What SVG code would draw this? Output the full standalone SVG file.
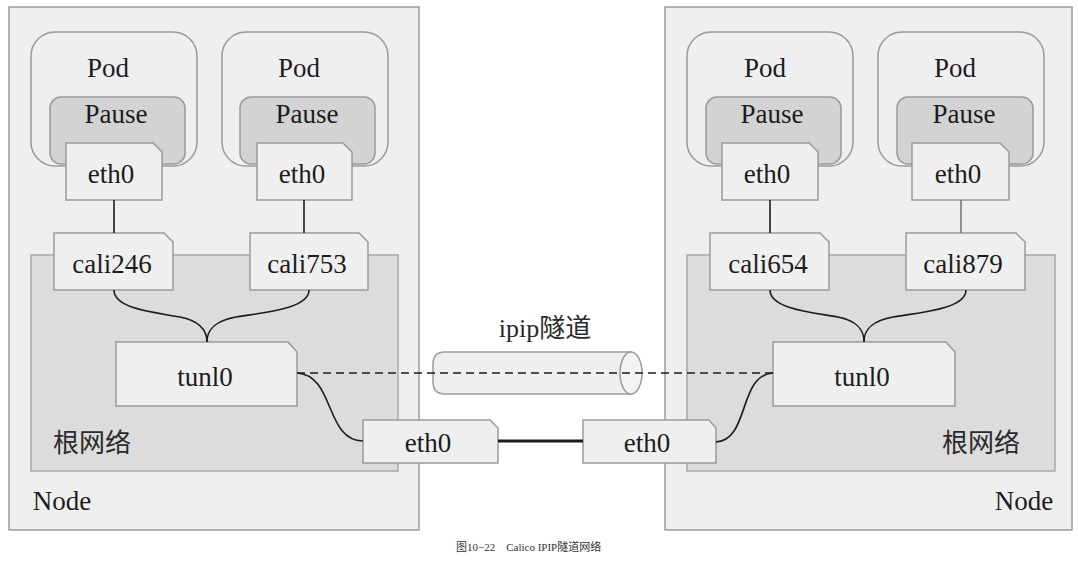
<svg xmlns="http://www.w3.org/2000/svg" width="1078" height="567" viewBox="0 0 1078 567">
<style>
.node{fill:#efefef;stroke:#9a9a9a;stroke-width:1.5}
.root{fill:#dcdcdc;stroke:#a8a8a8;stroke-width:1.5}
.pod{fill:#efefef;stroke:#9a9a9a;stroke-width:1.5}
.pause{fill:#d3d3d3;stroke:#9a9a9a;stroke-width:1.5}
.box{fill:#efefef;stroke:#9a9a9a;stroke-width:1.5}
.t{font-family:"Liberation Serif","Noto Sans CJK SC",serif;font-size:27px;fill:#1c1c1c;text-anchor:middle}
.cn{font-family:"Liberation Serif","Noto Sans CJK SC",serif;font-size:26px;fill:#2a2a2a}
.ln{fill:none;stroke:#1c1c1c;stroke-width:1.6}
.ln2{fill:none;stroke:#777;stroke-width:1.6}
</style>
<rect width="1078" height="567" fill="#ffffff"/>
<g id="node-left">
<rect class="node" x="9" y="7" width="410" height="523"/>
<rect class="root" x="31" y="255" width="367" height="216"/>
<text class="cn" x="53" y="452">根网络</text>
<text class="t" x="62" y="510">Node</text>
</g>
<g id="node-right">
<rect class="node" x="665" y="7" width="407" height="523"/>
<rect class="root" x="687" y="255" width="368" height="216"/>
<text class="cn" x="942" y="452">根网络</text>
<text class="t" x="1024" y="510">Node</text>
</g>
<g id="pod-l1">
<rect class="pod" x="31" y="32" width="166" height="134" rx="24"/>
<text class="t" x="108" y="77">Pod</text>
<rect class="pause" x="50" y="97" width="135" height="67" rx="11"/>
<text class="t" x="116" y="123">Pause</text>
</g>
<g id="pod-l2">
<rect class="pod" x="222" y="32" width="166" height="134" rx="24"/>
<text class="t" x="299" y="77">Pod</text>
<rect class="pause" x="240" y="97" width="135" height="67" rx="11"/>
<text class="t" x="307" y="123">Pause</text>
</g>
<g id="pod-r1">
<rect class="pod" x="687" y="32" width="166" height="134" rx="24"/>
<text class="t" x="765" y="77">Pod</text>
<rect class="pause" x="706" y="97" width="135" height="67" rx="11"/>
<text class="t" x="772" y="123">Pause</text>
</g>
<g id="pod-r2">
<rect class="pod" x="878" y="32" width="166" height="134" rx="24"/>
<text class="t" x="955" y="77">Pod</text>
<rect class="pause" x="897" y="97" width="136" height="67" rx="11"/>
<text class="t" x="964" y="123">Pause</text>
</g>
<g id="eth0-l1">
<path class="box" d="M66,143 H153 L162,152 V200 H66 Z"/>
<text class="t" x="111" y="183">eth0</text>
</g>
<g id="eth0-l2">
<path class="box" d="M257,143 H343 L352,152 V200 H257 Z"/>
<text class="t" x="302" y="183">eth0</text>
</g>
<g id="eth0-r1">
<path class="box" d="M722,143 H809 L818,152 V200 H722 Z"/>
<text class="t" x="767" y="183">eth0</text>
</g>
<g id="eth0-r2">
<path class="box" d="M912,143 H1000 L1009,152 V200 H912 Z"/>
<text class="t" x="958" y="183">eth0</text>
</g>
<g id="cali246">
<path class="box" d="M54,233 H164 L173,242 V290 H54 Z"/>
<text class="t" x="112" y="273">cali246</text>
</g>
<g id="cali753">
<path class="box" d="M250,233 H359 L368,242 V290 H250 Z"/>
<text class="t" x="307" y="273">cali753</text>
</g>
<g id="cali654">
<path class="box" d="M710,233 H820 L829,242 V290 H710 Z"/>
<text class="t" x="768" y="273">cali654</text>
</g>
<g id="cali879">
<path class="box" d="M906,233 H1016 L1025,242 V290 H906 Z"/>
<text class="t" x="963" y="273">cali879</text>
</g>
<g id="tunl0-left">
<path class="box" d="M116,342 H288 L297,352 V406 H116 Z"/>
<text class="t" x="205" y="386">tunl0</text>
</g>
<g id="tunl0-right">
<path class="box" d="M773,342 H946 L955,352 V406 H773 Z"/>
<text class="t" x="862" y="386">tunl0</text>
</g>
<g id="eth0-host-left">
<path class="box" d="M363,420 H490 L498,428 V463 H363 Z"/>
<text class="t" x="428" y="452">eth0</text>
</g>
<g id="eth0-host-right">
<path class="box" d="M583,420 H709 L716,428 V463 H583 Z"/>
<text class="t" x="647" y="452">eth0</text>
</g>
<g id="ipip-tunnel">
<path fill="#efefef" stroke="#9a9a9a" stroke-width="1.5" d="M631,352 H445 Q433,352 433,364 V382 Q433,394 445,394 H631 Z"/>
<ellipse cx="631" cy="373" rx="11" ry="21" fill="#f3f3f3" stroke="#9a9a9a" stroke-width="1.5"/>
<text class="cn" x="545" y="337" text-anchor="middle">ipip隧道</text>
</g>
<g id="connectors">
<line class="ln" x1="114" y1="200" x2="114" y2="233"/>
<line class="ln" x1="304" y1="200" x2="304" y2="233"/>
<line class="ln" x1="770" y1="200" x2="770" y2="233"/>
<line class="ln2" x1="961" y1="200" x2="961" y2="233"/>
<path class="ln" d="M114,290 C114,310 160,313 180,317 C200,321 207,330 207,342"/>
<path class="ln" d="M309,290 C309,310 258,313 236,317 C214,321 207,330 207,342"/>
<path class="ln" d="M770,290 C770,310 818,313 838,317 C858,321 864,330 864,342"/>
<path class="ln" d="M966,290 C966,310 915,313 893,317 C871,321 864,330 864,342"/>
<path class="ln" d="M297,373 C335,375 325,441 363,441"/>
<path class="ln" d="M716,442 C750,440 738,375 773,373"/>
<line x1="297" y1="373" x2="773" y2="373" stroke="#1c1c1c" stroke-width="1.6" stroke-dasharray="8,5"/>
<line x1="498" y1="441" x2="583" y2="441" stroke="#1c1c1c" stroke-width="3.2"/>
</g>
<text x="456" y="551" font-family="Liberation Serif, Noto Sans CJK SC, serif" font-size="11" fill="#333">图10−22　Calico IPIP隧道网络</text>
</svg>
